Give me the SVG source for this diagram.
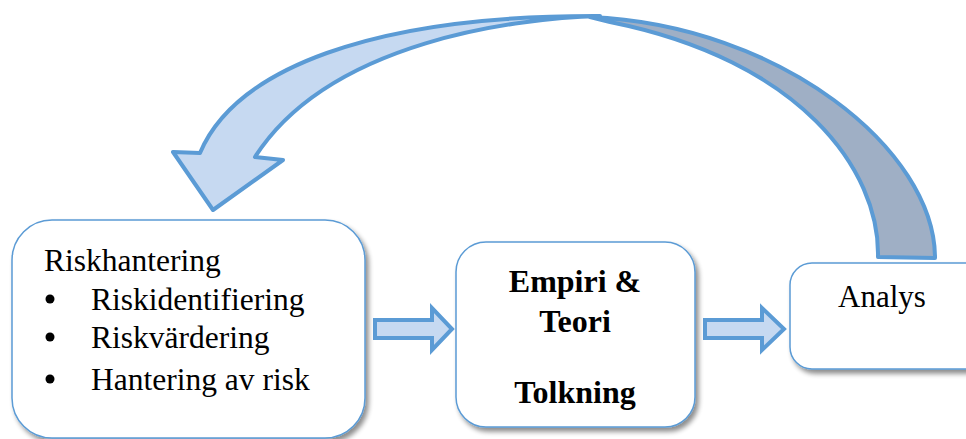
<svg xmlns="http://www.w3.org/2000/svg" width="966" height="439" viewBox="0 0 966 439">
<style>
.box{fill:#fff;stroke:#5B9BD5;stroke-width:1.5;filter:url(#sh)}
.blk{fill:#C6D9F1;stroke:#5B9BD5;stroke-width:4;stroke-linejoin:miter}
.t{font-family:"Liberation Serif","Times New Roman",serif;fill:#000}
.b{font-weight:bold;text-anchor:middle;font-size:32px}
</style>
<defs>
<filter id="sh" x="-10%" y="-10%" width="130%" height="130%">
<feGaussianBlur in="SourceAlpha" stdDeviation="2.5"/>
<feOffset dx="3" dy="4" result="o"/>
<feComponentTransfer><feFuncA type="linear" slope="0.45"/></feComponentTransfer>
<feMerge><feMergeNode/><feMergeNode in="SourceGraphic"/></feMerge>
</filter>
</defs>
<rect width="966" height="439" fill="#fff"/>
<g id="connectors">
<path id="loop-back" d="M590,17 C780,25 935,150 935,258 L878,257 C880,170 800,60 610,22 Z" fill="#9FAFC5" stroke="#5B9BD5" stroke-width="4" stroke-linejoin="round"/>
<path id="loop-front" d="M200,153 C235,70 370,15 600,16 C520,18 330,40 255,157 L283,160 L213,210 L173,152 Z" fill="#C6D9F1" stroke="#5B9BD5" stroke-width="4" stroke-linejoin="round"/>
<path id="arrow1" class="blk" d="M375,320 L432,320 L432,308 L452,329 L432,350 L432,338 L375,338 Z"/>
<path id="arrow2" class="blk" d="M705,320 L762,320 L762,308 L784,329 L762,350 L762,338 L705,338 Z"/>
</g>
<g id="riskhantering">
<rect class="box" x="12" y="220" width="353" height="218" rx="40"/>
<text class="t" x="44" y="271" font-size="31.5">Riskhantering</text>
<circle cx="50" cy="299" r="4.5"/>
<circle cx="50" cy="337" r="4.5"/>
<circle cx="50" cy="379" r="4.5"/>
<text class="t" x="91" y="310" font-size="31.5">Riskidentifiering</text>
<text class="t" x="91" y="348" font-size="31.5">Riskvärdering</text>
<text class="t" x="91" y="390" font-size="31.5">Hantering av risk</text>
</g>
<g id="empiri">
<rect class="box" x="456" y="242" width="239" height="185" rx="30"/>
<text class="t b" x="575" y="292">Empiri &amp;</text>
<text class="t b" x="575" y="332">Teori</text>
<text class="t b" x="575" y="403">Tolkning</text>
</g>
<g id="analys">
<rect class="box" x="790" y="263" width="200" height="106" rx="22"/>
<text class="t" x="882" y="307" font-size="31" text-anchor="middle">Analys</text>
</g>
</svg>
